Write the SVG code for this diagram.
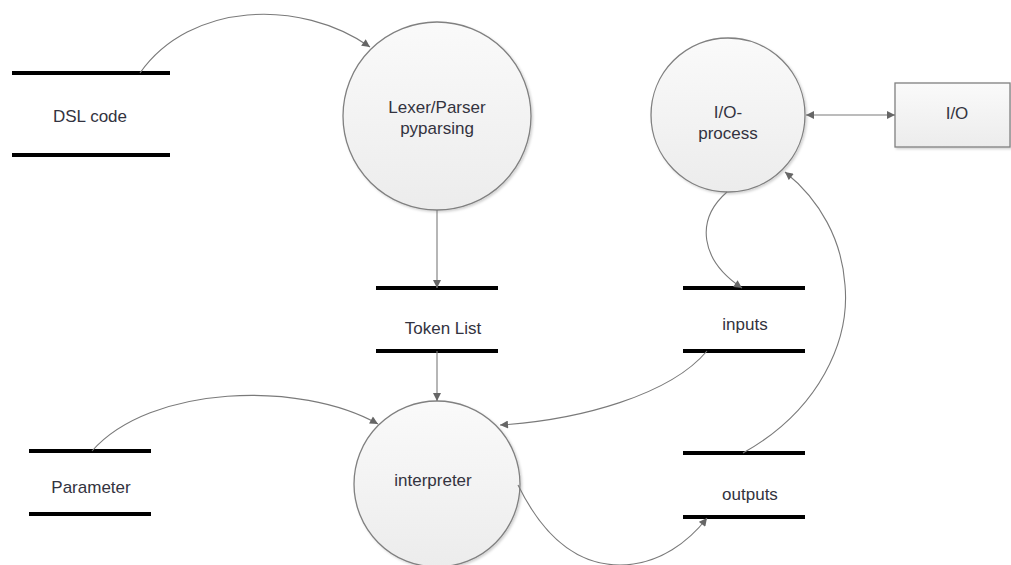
<svg xmlns="http://www.w3.org/2000/svg" width="1011" height="565" viewBox="0 0 1011 565">
<style>
.store{stroke:#000;stroke-width:4;fill:none}
.proc{fill:url(#g);stroke:#808080;stroke-width:1.3}
.txt{font-family:"Liberation Sans",Arial,sans-serif;font-size:17px;fill:#333340;text-anchor:middle}
.edge{fill:none;stroke:#7a7a7a;stroke-width:1.1}
</style>
<defs>
<linearGradient id="g" x1="0" y1="0" x2="0" y2="1">
<stop offset="0" stop-color="#fafafa"/>
<stop offset="1" stop-color="#ececec"/>
</linearGradient>
<filter id="sh" x="-10%" y="-10%" width="130%" height="130%">
<feDropShadow dx="1.5" dy="1.5" stdDeviation="1.2" flood-color="#000" flood-opacity="0.18"/>
</filter>
<marker id="ah" viewBox="0 0 10 10" refX="10" refY="5" markerWidth="9" markerHeight="8" markerUnits="userSpaceOnUse" orient="auto-start-reverse">
<path d="M0,0 L10,5 L0,10 z" fill="#666"/>
</marker>
</defs>
<rect width="1011" height="565" fill="#fff"/>

<g id="dsl-code">
<line class="store" x1="12" y1="73" x2="170" y2="73"/>
<line class="store" x1="12" y1="155" x2="170" y2="155"/>
<text class="txt" x="90" y="122">DSL code</text>
</g>

<g id="lexer-parser">
<circle class="proc" cx="437" cy="116" r="94" filter="url(#sh)"/>
<text class="txt" x="437" y="113">Lexer/Parser</text>
<text class="txt" x="437" y="134">pyparsing</text>
</g>

<g id="token-list">
<line class="store" x1="376" y1="288" x2="498" y2="288"/>
<line class="store" x1="376" y1="351" x2="498" y2="351"/>
<text class="txt" x="443" y="334">Token List</text>
</g>

<g id="interpreter">
<circle class="proc" cx="437" cy="484" r="83" filter="url(#sh)"/>
<text class="txt" x="433" y="486">interpreter</text>
</g>

<g id="parameter">
<line class="store" x1="29" y1="451" x2="151" y2="451"/>
<line class="store" x1="29" y1="514" x2="151" y2="514"/>
<text class="txt" x="91" y="493">Parameter</text>
</g>

<g id="io-process">
<circle class="proc" cx="728" cy="115" r="77" filter="url(#sh)"/>
<text class="txt" x="728" y="118">I/O-</text>
<text class="txt" x="728" y="139">process</text>
</g>

<g id="io">
<rect x="895" y="83" width="115" height="64" fill="url(#g)" stroke="#808080" stroke-width="1.3" filter="url(#sh)"/>
<text class="txt" x="957" y="119">I/O</text>
</g>

<g id="inputs">
<line class="store" x1="683" y1="288" x2="805" y2="288"/>
<line class="store" x1="683" y1="351" x2="805" y2="351"/>
<text class="txt" x="745" y="330">inputs</text>
</g>

<g id="outputs">
<line class="store" x1="683" y1="453" x2="805" y2="453"/>
<line class="store" x1="683" y1="517" x2="805" y2="517"/>
<text class="txt" x="750" y="500">outputs</text>
</g>

<g id="connectors">
<path class="edge" d="M140,73 C190,2 300,-2 370,47" marker-end="url(#ah)"/>
<path class="edge" d="M437,210 L437,288" marker-end="url(#ah)"/>
<path class="edge" d="M437,351 L437,401" marker-end="url(#ah)"/>
<path class="edge" d="M92,451 C150,385 300,380 378,424" marker-end="url(#ah)"/>
<path class="edge" d="M707,351 C670,395 580,420 500,425" marker-end="url(#ah)"/>
<path class="edge" d="M518,485 C545,540 580,565 620,565 C660,565 690,540 707,518" marker-end="url(#ah)"/>
<path class="edge" d="M727,192 C695,220 700,260 742,288" marker-end="url(#ah)"/>
<path class="edge" d="M743,453 C820,410 850,340 845,285 C842,240 820,200 785,172" marker-end="url(#ah)"/>
<path class="edge" d="M806,115 L895,115" marker-start="url(#ah)" marker-end="url(#ah)"/>
</g>
</svg>
